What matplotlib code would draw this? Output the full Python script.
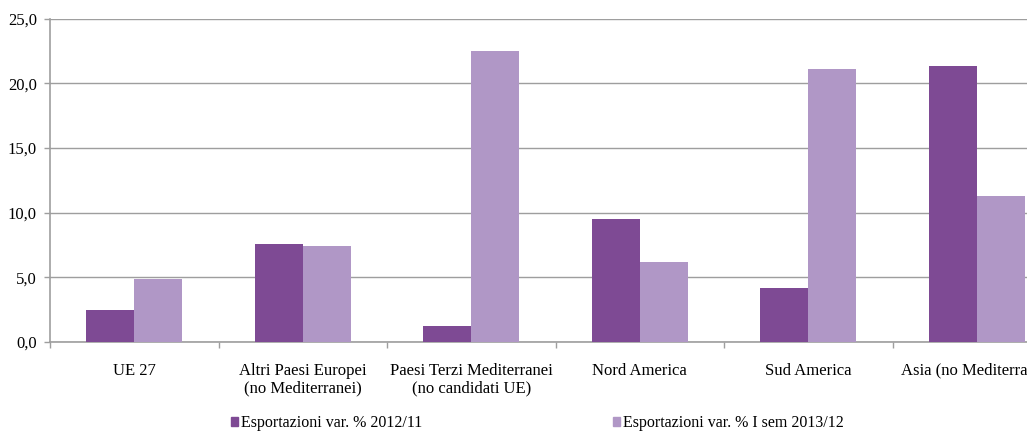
import matplotlib
matplotlib.use("Agg")
import matplotlib.pyplot as plt
from matplotlib.patches import Patch
import numpy as np

categories = ["UE 27", "Altri Paesi Europei\n(no Mediterranei)",
              "Paesi Terzi Mediterranei\n(no candidati UE)", "Nord America",
              "Sud America", "Asia (no Mediterranei)"]
export_2012_11 = [2.5, 7.6, 1.2, 9.5, 4.2, 21.3]
export_sem_2013_12 = [4.9, 7.4, 22.5, 6.2, 21.1, 11.3]
series_labels = ["Esportazioni var. % 2012/11", "Esportazioni var. % I sem 2013/12"]
yticks = [0, 5, 10, 15, 20, 25]

dark = "#7E4A94"
light = "#B097C6"
grid_c = "#9E9E9E"

plt.rcParams["font.family"] = ["Liberation Serif", "DejaVu Serif"]
plt.rcParams["font.size"] = 12

W, H = 1027, 432
fig = plt.figure(figsize=(W / 100, H / 100), dpi=100)
left, right, bottom, top = 50, 1061, 342, 18.5
ax = fig.add_axes([left / W, (H - bottom) / H, (right - left) / W, (bottom - top) / H])

x = np.arange(len(categories))
bw = 0.285
ax.bar(x - bw / 2, export_2012_11, width=bw, color=dark, zorder=3)
ax.bar(x + bw / 2, export_sem_2013_12, width=bw, color=light, zorder=3)

ax.set_xlim(-0.5, len(categories) - 0.5)
ax.set_ylim(0, 25)
ax.set_yticks(yticks)
ax.set_yticklabels([f"{v:.1f}".replace(".", ",") for v in yticks])
ax.yaxis.grid(True, color=grid_c, linewidth=1.0, zorder=0)

ax.set_xticks(x)
ax.set_xticklabels(categories, linespacing=1.15)
ax.tick_params(axis="x", which="major", length=0, pad=15)
ax.set_xticks(np.arange(-0.5, len(categories) + 0.5, 1.0), minor=True)
ax.tick_params(axis="x", which="minor", length=4, color=grid_c, width=1)
ax.tick_params(axis="y", length=4, color=grid_c, width=1, pad=5.5)

for s in ["top", "right"]:
    ax.spines[s].set_visible(False)
for s in ["left", "bottom"]:
    ax.spines[s].set_color(grid_c)
    ax.spines[s].set_linewidth(1.2)

handles = [Patch(color=dark), Patch(color=light)]
fig.legend(handles, series_labels, loc="center left", bbox_to_anchor=(231 / W, 1 - 423 / H),
           ncol=2, frameon=False, fontsize=11.5, handlelength=0.45, handleheight=0.45,
           handletextpad=0.2, columnspacing=11.9, borderpad=0, borderaxespad=0)

fig.savefig("out.png", dpi=100)
